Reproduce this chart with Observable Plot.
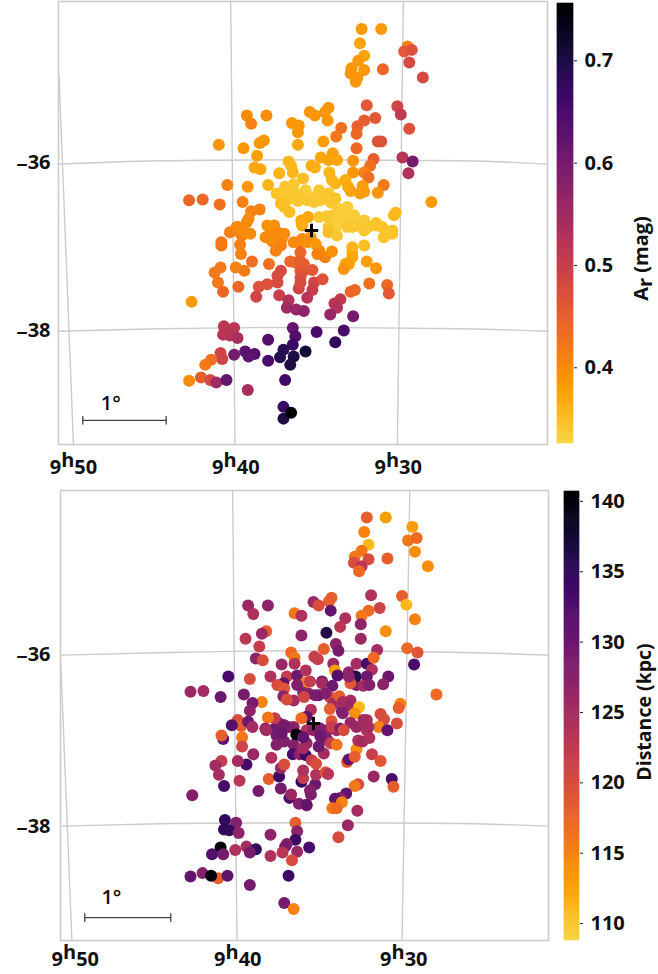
<!DOCTYPE html>
<html><head><meta charset="utf-8">
<script src="https://cdn.jsdelivr.net/npm/d3@7"></script>
<script src="https://cdn.jsdelivr.net/npm/@observablehq/plot@0.6"></script>
<style>
html,body{margin:0;padding:0;background:#fff}
#page{position:relative;width:658px;height:974px;overflow:hidden}
#page svg{position:absolute;background:transparent;max-width:none;overflow:visible}
</style></head><body><div id="page"></div>
<script>
// Star positions: offsets in degrees from the "+" centre (x west, y north)
const topX=[-.25,-.16,-.10,-.01,.10,.23,.36,.26,.42,.54,.30,.42,.62,.67,.83,.36,.09,.24,-.89,-.82,-.48,-.35,-.40,-.15,-.11,-.13,-.01,.09,-.19,-.09,.40,.48,
.59,.82,.57,.62,.55,.47,.62,.46,.54,.52,.84,1.13,1.09,1.18,1.15,1.31,.65,1.01,1.05,.75,.62,.54,.53,1.15,.78,.82,.53,.35,.29,.20,.16,.19,-.02,.04,-.23,-.15,-.16,-.16,.14,-.76,-.53,-.71,-1.09,-.80,-.61,-.56,-.64,-.67,-.60,-.38,-.27,-.24,-.22,0,.04,-.10,-.51,-.75,-.99,-1.44,-1.28,-1.08,-.81,-.61,-.71,-.74,-.88,1.41,.99,.97,.76,.95,.25,.11,.20,.30,.49,.73,.69,1.07,1.19,1.14,.49,.62,.67,.85,.78,.21,.24,.28,.40,.43,.46,.60,.57,.62,
-.31,-.21,-.41,-.33,-.21,-.07,-.15,-.05,.09,.20,.28,.15,.03,-.36,-.32,-.26,.42,.32,.18,.50,.30,.40,.58,-.04,-.12,-.11,.20,.48,
-.76,-.96,-.87,-.78,-.72,-1.06,-1.06,-.84,-.83,-.52,-.44,-.54,-.40,-.32,-.46,-.36,-.42,-.21,-.11,-.05,.05,.07,.16,.24,.20,.30,.48,.62,.48,.44,.38,.65,.76,.62,.77,.85,.95,.42,.54,
-.70,-.50,-.25,-.13,-.09,.01,-.13,-.36,-.40,-.13,-.40,-.52,-.62,-.65,-.38,-.15,-.13,.03,.13,.01,-.05,-.27,-.29,-.18,-.09,.34,.27,.30,.22,.49,.46,.51,.68,.89,.91,-1.07,-1.14,-.89,-.79,-1.10,-1.04,-.86,-1.41,
-1.03,-.91,-1.04,-.96,-.87,-.22,-.19,-.22,-.51,.06,.38,.28,-.07,-.33,-.37,-.21,-.25,-.51,-.78,-.67,-.74,-.91,-1.07,-1.05,-1.18,-1.25,-1.44,-1.30,-1.19,-1.12,-1.00,-.75,-.31,-.33,-.33,-.24];
const topY=[.38,.35,.40,.40,.36,.33,.22,.18,.16,.12,.06,.04,.12,.04,.04,.12,.16,.10,0,-.06,-.04,-.10,-.16,-.14,-.10,-.26,-.08,-.24,-.38,-.48,-.40,-.26,
2.40,2.40,2.23,2.08,2.02,1.93,1.91,1.87,1.82,1.77,1.92,2.19,2.13,2.15,2.00,1.82,1.49,1.48,1.38,1.34,1.31,1.24,1.15,1.21,1.06,1.06,.98,1.22,1.12,1.46,1.41,1.31,1.41,1.37,1.28,1.25,1.17,1.02,1.06,1.37,1.37,1.27,1.02,.98,1.04,1.07,.89,.75,.73,.68,.82,.77,.69,.77,.75,.62,.54,.52,.54,.36,.37,.31,.34,.25,.23,.14,.04,.34,.21,.18,.09,0,.92,.87,.84,.84,.83,.85,.77,.87,.82,.68,.69,.69,.63,.54,.45,.69,.60,.56,.60,.52,.47,.53,.44,.46,
.52,.55,.44,.44,.46,.48,.42,.36,.48,.44,.38,.38,.34,.32,.28,.22,.28,.26,.17,.18,.14,.10,.07,.16,.12,.06,.04,.04,
.10,-.02,.04,-.02,-.04,-.14,-.18,-.17,-.28,.06,.06,-.08,-.02,-.04,-.13,-.18,-.24,-.14,.08,-.14,-.16,-.28,-.32,-.25,-.02,-.06,-.20,-.18,-.32,-.40,-.46,-.37,-.45,0,.06,-.08,-.04,.08,.06,
-.37,-.40,-.37,-.37,-.40,-.47,-.48,-.48,-.54,-.56,-.62,-.64,-.67,-.79,-.77,-.69,-.62,-.62,-.58,-.71,-.80,-.83,-.92,-.94,-.96,-.82,-.87,-.92,-1.0,-1.02,-.73,-.71,-.63,-.65,-.75,-.44,-.50,-.44,-.48,-.62,-.73,-.67,-.85,
-1.14,-1.16,-1.24,-1.25,-1.28,-1.16,-1.26,-1.36,-1.30,-1.21,-1.19,-1.33,-1.44,-1.42,-1.51,-1.50,-1.60,-1.55,-1.44,-1.47,-1.50,-1.48,-1.46,-1.53,-1.54,-1.60,-1.79,-1.75,-1.78,-1.81,-1.78,-1.90,-1.78,-2.10,-2.24,-2.17];
// Extinction A_r (mag)
const topA=[.34,.34,.34,.335,.34,.34,.335,.34,.335,.335,.335,.335,.34,.34,.345,.335,.34,.335,.40,.41,.40,.405,.41,.40,.40,.44,.39,.40,.44,.46,.37,.36,
.385,.385,.375,.375,.385,.39,.39,.39,.39,.39,.44,.41,.46,.47,.48,.48,.46,.49,.51,.46,.45,.45,.44,.47,.47,.47,.44,.43,.42,.39,.39,.39,.39,.39,.39,.39,.39,.37,.38,.40,.40,.41,.39,.39,.39,.39,.38,.37,.37,.36,.355,.355,.355,.365,.365,.35,.36,.39,.41,.44,.44,.43,.41,.41,.41,.40,.41,.385,.355,.355,.345,.345,.38,.37,.375,.375,.39,.45,.43,.52,.60,.53,.39,.41,.43,.42,.39,.36,.36,.36,.365,.37,.375,.38,.38,.38,
.345,.34,.345,.34,.34,.335,.34,.34,.34,.34,.345,.34,.34,.35,.35,.35,.335,.335,.34,.335,.335,.335,.335,.37,.37,.37,.34,.34,
.40,.41,.40,.40,.40,.42,.42,.41,.41,.395,.395,.40,.40,.40,.40,.41,.41,.40,.365,.395,.39,.41,.41,.395,.35,.34,.36,.35,.37,.38,.39,.38,.39,.34,.345,.345,.345,.34,.34,
.43,.43,.44,.45,.45,.46,.46,.48,.48,.47,.48,.47,.47,.49,.50,.49,.48,.49,.47,.50,.52,.53,.55,.56,.57,.51,.52,.53,.56,.60,.44,.44,.43,.44,.46,.42,.42,.41,.42,.42,.44,.44,.385,
.52,.52,.52,.52,.54,.62,.64,.67,.64,.65,.65,.68,.71,.69,.69,.70,.70,.65,.63,.64,.63,.60,.49,.49,.43,.42,.40,.45,.48,.55,.62,.54,.66,.67,.70,.755];

const botX=[-.23,-.06,.06,.19,.23,.50,.33,.50,.62,-.45,-.41,-.23,-.08,0,.16,-.23,-.08,.16,-.43,.27,.62,
.62,.84,.59,.64,.56,.48,.47,.64,.56,.53,.86,1.15,1.10,1.20,1.18,1.33,.67,1.03,1.08,.77,.64,.56,.55,1.18,.84,.55,.37,.31,.21,.18,.20,0,.06,-.22,-.14,.15,-.14,-.76,-.53,-.70,-.55,-.60,-.79,-.63,-.67,-.59,-.37,-.26,-.22,-.22,.01,.05,.12,.26,.29,.23,.25,.28,.50,.62,.74,.70,1.09,1.21,1.17,.68,.41,.49,.62,.87,.81,.58,.65,.43,.41,1.43,
-.99,-.74,-.50,-1.43,-1.28,-1.08,-.81,-.60,-.71,-.74,-.31,-.35,-.42,-.34,-.19,-.09,-.09,-.04,-.19,-.12,-.35,-.31,.10,.10,.22,.14,.02,-.11,.30,.34,.43,.43,.53,.48,.19,-.03,-.08,-.14,.34,1.01,.99,.78,.82,.76,.58,.64,.43,.21,.21,.31,.86,.97,.08,-.29,-.35,-.45,-.53,-.88,-.84,-.95,-.76,-.71,-.56,
-1.05,-1.07,-.83,-.83,-.70,-.78,-.88,-1.07,-1.14,-1.10,-1.04,-.86,-1.41,-.49,-.64,-.52,-.40,-.38,-.34,-.38,-.28,-.26,-.17,-.08,-.08,-.03,.02,-.04,-.14,-.12,-.12,.03,.14,.17,-.24,-.16,-.09,-.12,.12,.20,.27,-.02,.03,-.20,-.12,-.55,-.43,-.43,-.34,-.34,-.37,.08,.06,.39,.41,.50,.48,.52,.57,.65,.68,.78,.35,.70,.91,.93,.52,.48,.38,.31,.25,.33,.22,.27,.51,.40,.29,
-.21,-.19,-.21,-.50,-.05,-.31,-.33,-.36,-.19,-.25,-.50,-.78,-.67,-.74,-.91,-1.08,-1.05,-1.18,-1.03,-.90,-1.04,-.98,-.87,-1.43,-1.29,-1.11,-1.19,-1.00,-.74,-.29,-.34,-.23];
const botY=[.27,.35,.33,.31,.23,.45,.14,-.04,.04,-.06,.01,-.04,-.08,-.08,-.08,-.25,-.23,-.19,-.04,-.08,-.08,
2.41,2.41,2.24,2.09,2.02,1.95,1.88,1.92,1.84,1.78,1.93,2.30,2.14,2.17,2.01,1.84,1.50,1.49,1.39,1.35,1.32,1.26,1.16,1.22,1.08,.99,1.23,1.13,1.47,1.43,1.32,1.42,1.38,1.29,1.26,1.06,1.03,1.38,1.38,1.28,1.08,1.05,.99,.90,.76,.74,.69,.83,.77,.70,.78,.75,.87,.93,.85,.70,.62,.56,.70,.70,.86,.77,.88,.83,.69,.63,.60,.55,.55,.55,.46,.44,.45,.47,.55,.34,
.55,.52,.55,.37,.38,.31,.34,.25,.24,.15,.55,.47,.45,.41,.56,.62,.48,.49,.45,.36,.32,.28,.49,.47,.44,.35,.33,.31,.32,.25,.27,.21,.19,.12,.17,.16,.08,.06,.12,.23,.18,.11,.05,-.04,.04,-.04,.01,.03,-.04,-.06,-.08,0,-.06,-.04,-.02,.06,.07,.04,-.03,-.02,.02,-.04,-.06,
-.18,-.14,-.16,-.27,-.36,-.48,-.44,-.44,-.49,-.60,-.73,-.67,-.84,-.40,-.79,-.65,-.62,-.52,-.48,-.76,-.87,-.83,-.94,-.96,-.95,-.83,-.71,-.78,-.68,-.64,-.55,-.60,-.57,-.59,-.36,-.36,-.37,-.29,-.35,-.23,-.25,-.43,-.47,-.13,-.16,-.08,-.14,-.25,-.21,-.02,-.12,-.15,-.27,-.45,-.42,-.30,-.39,-.20,-.21,-.17,-.36,-.44,-.08,-.62,-.65,-.74,-.71,-.73,-.82,-.87,-.88,-.92,-.99,-.99,-1.02,-1.19,-1.33,
-1.16,-1.26,-1.36,-1.30,-1.45,-1.41,-1.44,-1.51,-1.50,-1.60,-1.55,-1.44,-1.47,-1.51,-1.48,-1.45,-1.53,-1.53,-1.13,-1.16,-1.24,-1.25,-1.28,-1.79,-1.75,-1.81,-1.78,-1.78,-1.89,-1.78,-2.10,-2.17];
// Distance (kpc)
const botD=[125,127,130,120,125,128,129,126,124,128,129,127,124,127,128,128,126,128,130,125,124,
118,113,115,111,116,116,120,120,123,117,118,113,116,117,114,114,124,118,111,121,117,116,127,115,114,126,124,123,118,118,131,126,120,116,124,136,127,126,127,124,118,126,123,122,127,120,126,117,116,124,122,122,118,127,129,126,113,132,125,133,125,117,117,119,133,124,127,136,130,130,127,125,128,119,127,117,
133,120,124,126,125,130,129,115,129,127,122,131,120,119,130,124,115,122,128,128,127,120,130,125,130,128,129,121,118,125,125,126,111,114,118,124,131,117,128,115,118,120,120,115,125,125,126,119,122,128,131,120,128,128,129,122,116,120,118,132,130,125,127,
131,118,116,121,126,133,125,122,125,125,133,123,128,124,129,118,134,126,120,129,133,126,128,122,131,128,130,128,135,122,124,124,119,123,133,127,134,125,125,122,116,122,120,140,131,125,129,128,128,129,130,130,130,118,131,114,118,124,125,124,122,119,120,126,133,118,120,116,131,127,131,115,116,117,125,126,120,
118,127,134,127,133,128,129,123,126,120,124,125,135,129,124,140,129,132,135,128,135,135,127,131,128,118,140,131,129,134,129,115];

// Coordinate grid (degree offsets)
const topDec36=[[-2.98,.79],[-1.78,.83],[-.13,.84],[1.75,.83],[2.78,.79]];
const topDec38=[[-2.98,-1.20],[-1.78,-1.17],[-.13,-1.155],[1.75,-1.17],[2.78,-1.20]];
const topRa50=[[-2.97,1.85],[-2.80,-2.55]];
const topRa40=[[-.95,2.73],[-.90,-2.55]];
const topRa30=[[1.08,2.73],[1.01,-2.55]];
const botDec36=[[-2.94,.80],[-1.66,.83],[-.03,.85],[1.71,.83],[2.73,.80]];
const botDec38=[[-2.94,-1.20],[-1.66,-1.17],[-.03,-1.16],[1.71,-1.17],[2.73,-1.20]];
const botRa50=[[-2.94,.74],[-2.81,-2.53]];
const botRa40=[[-.94,2.72],[-.89,-2.53]];
const botRa30=[[1.12,2.72],[1.03,-2.53]];

const raLabels=["9h50","9h40","9h30"];
const decLabels=["−36","−38"];
const topRaTicks=[-2.80,-.89,1.02], topDecTicks=[.81,-1.19];
const botRaTicks=[-2.77,-.88,1.05], botDecTicks=[.81,-1.20];
const arTicks=[.4,.5,.6,.7], distTicks=[110,115,120,125,130,135,140];
const arDomain=[.326,.756], distDomain=[108.8,140.7];

const FONT="'Open Sans', Lato, sans-serif";
const colormap=t=>d3.interpolateInferno(0.9*(1-t));
const page=document.getElementById("page");

function richText(svg){
  const NS="http://www.w3.org/2000/svg";
  svg.querySelectorAll("text").forEach(t=>{
    const s=t.textContent;
    let m;
    const parts=(m=s.match(/^(9)(h)(\d+)$/))?[[m[1],0,1],[m[2],-7,.52],[m[3],7,1]]
      :(m=s.match(/^(A)(r)( \(mag\))$/))?[[m[1],0,1],[m[2],4,.7],[m[3],-4,1]]
      :(m=s.match(/^(−)(\d+)$/))?[[m[1],3,1.7],[m[2],-3,1]]:null;
    if(!parts) return;
    const fs=parseFloat(getComputedStyle(t).fontSize);
    t.textContent="";
    for(const [txt,dy,k] of parts){
      const sp=document.createElementNS(NS,"tspan");
      sp.textContent=txt; sp.setAttribute("dy",dy); sp.setAttribute("font-size",fs*k);
      t.appendChild(sp);
    }
  });
}
function place(svg,left,top){svg.style.left=left+"px";svg.style.top=top+"px";richText(svg);page.appendChild(svg);}

function panel(o){
  const stars=o.xs.map((x,i)=>({x,y:o.ys[i],v:o.vs[i]}));
  const gridStyle={x:d=>d[0],y:d=>d[1],stroke:"#cccccc",strokeWidth:1.4,curve:"natural"};
  const [bx0,bx1,by]=o.bar, h=.045;
  const barStyle={x:d=>d[0],y:d=>d[1],stroke:"#444",strokeWidth:1.3};
  return Plot.plot({
    width:658,height:o.height,
    marginLeft:o.ml,marginRight:o.mr,marginTop:o.mt,marginBottom:o.mb,
    style:{fontFamily:FONT,background:"transparent"},
    x:{domain:o.xd,axis:null},y:{domain:o.yd,axis:null},
    color:{type:"linear",domain:o.vd,interpolate:colormap},
    marks:[
      ...o.grid.map(g=>Plot.line(g,gridStyle)),
      Plot.frame({stroke:"#cccccc",strokeWidth:1.6}),
      Plot.dot(stars,{x:"x",y:"y",fill:"v",r:6}),
      Plot.dot([[0,0]],{x:d=>d[0],y:d=>d[1],symbol:"plus",r:4.4,stroke:"black",strokeWidth:3}),
      Plot.line([[bx0,by],[bx1,by]],barStyle),
      Plot.line([[bx0,by-h],[bx0,by+h]],barStyle),
      Plot.line([[bx1,by-h],[bx1,by+h]],barStyle),
      Plot.text(["1°"],{x:o.barLabel[0],y:o.barLabel[1],fontSize:20,fontWeight:600,fill:"#111"}),
      Plot.axisX(o.raTicks,{tickSize:0,tickPadding:o.xpad,tickFormat:(d,i)=>raLabels[i],fontSize:20,fontWeight:700,fill:"#111",label:null,anchor:"bottom"}),
      Plot.axisY(o.decTicks,{tickSize:0,tickPadding:o.ypad,tickFormat:(d,i)=>decLabels[i],fontSize:20,fontWeight:700,fill:"#111",label:null,anchor:"left"})
    ]
  });
}
function colorbar(o){
  const n=220,[a,b]=o.vd;
  const bins=d3.range(n).map(i=>({v0:a+(b-a)*i/n,v1:a+(b-a)*(i+1)/n}));
  return Plot.plot({
    width:o.width,height:o.height,marginLeft:0,marginRight:o.width-o.barW,marginTop:o.mt,marginBottom:o.mb,
    style:{fontFamily:FONT,background:"transparent"},
    x:{axis:null},y:{domain:o.vd,axis:null},
    color:{type:"linear",domain:o.vd,interpolate:colormap},
    marks:[
      Plot.rect(bins,{y1:"v0",y2:"v1",fill:d=>(d.v0+d.v1)/2,inset:-.3}),
      Plot.axisY(o.ticks,{anchor:"right",tickSize:3,tickPadding:o.tpad,tickFormat:o.fmt,fontSize:20,fontWeight:700,fill:"#111",label:null,stroke:"#222"}),
      Plot.text([o.label],{frameAnchor:"middle",rotate:-90,dx:o.ldx,dy:o.ldy,fontSize:o.lsize,fontWeight:700,fill:"#111"})
    ]
  });
}

place(panel({height:492,ml:58,mr:111,mt:1,mb:48,xd:[-2.976,2.776],yd:[-2.548,2.726],
  xs:topX,ys:topY,vs:topA,vd:arDomain,grid:[topDec36,topDec38,topRa50,topRa40,topRa30],
  bar:[-2.69,-1.71,-2.26],barLabel:[-2.36,-2.06],raTicks:topRaTicks,decTicks:topDecTicks,xpad:15,ypad:8}),0,0);
place(panel({height:496,ml:60,mr:110,mt:12,mb:34,xd:[-2.942,2.733],yd:[-2.538,2.725],
  xs:botX,ys:botY,vs:botD,vd:distDomain,grid:[botDec36,botDec38,botRa50,botRa40,botRa30],
  bar:[-2.66,-1.66,-2.27],barLabel:[-2.35,-2.04],raTicks:botRaTicks,decTicks:botDecTicks,xpad:11,ypad:10}),0,478);
place(colorbar({width:101,barW:16,height:478,mt:3,mb:35,vd:arDomain,ticks:arTicks,fmt:d3.format(".1f"),tpad:8,label:"Ar (mag)",ldx:76,ldy:35,lsize:20}),557,0);
place(colorbar({width:94,barW:15,height:496,mt:13,mb:34,vd:distDomain,ticks:distTicks,fmt:d3.format("d"),tpad:8,label:"Distance (kpc)",ldx:73,ldy:-4,lsize:19.5}),564,478);
</script></body></html>
